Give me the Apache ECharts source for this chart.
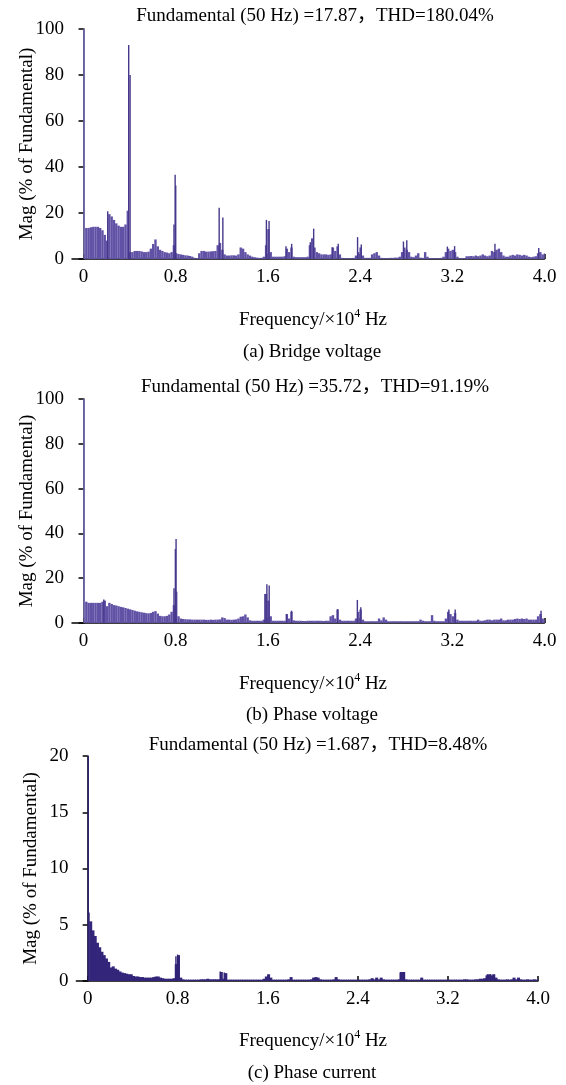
<!DOCTYPE html>
<html><head><meta charset="utf-8">
<script src="https://cdn.jsdelivr.net/npm/echarts@6/dist/echarts.min.js"></script>
<style>html,body{margin:0;padding:0;background:#fff}#c{width:566px;height:1085px}</style>
</head><body><div id="c"></div>
<script>
// ---------------- data ----------------
const STEP = 0.02; // x10^4 Hz spacing of the base spectrum samples
const xTicks = [0, 0.8, 1.6, 2.4, 3.2, 4.0];
const titles = [
  'Fundamental (50 Hz) =17.87，THD=180.04%',
  'Fundamental (50 Hz) =35.72，THD=91.19%',
  'Fundamental (50 Hz) =1.687，THD=8.48%'
];
const panelLabels = ['(a) Bridge voltage', '(b) Phase voltage', '(c) Phase current'];
const xName = ['Frequency/×10', '4', ' Hz'];
const yName = 'Mag (% of Fundamental)';
const yMax = [100, 100, 20];
const yStep = [20, 20, 5];

const baseA = [
  0, 13.5, 13.5, 13.8, 14, 14, 14, 13.5, 12.5, 10.5,
  8, 19.5, 18.5, 17, 15.5, 14.5, 14, 14, 15, 21,
  3, 3, 3.5, 3.5, 3.5, 3.3, 3, 3, 3.2, 4.5,
  6.5, 8.5, 5.5, 4, 3.5, 3, 2.8, 2.5, 3, 6,
  2.5, 2.2, 2, 1.8, 1.6, 1.5, 1.3, 1, 0.5, 0.4,
  2.5, 3.5, 3.5, 3.2, 3.2, 3.3, 3.4, 3.5, 6, 7,
  4, 2, 1.5, 1.5, 1.6, 1.6, 1.5, 2, 5, 4.5,
  3, 2, 1.5, 1, 0.8, 0.6, 0.5, 0.5, 1, 6,
  13, 3, 1, 1, 1, 1, 1, 1.2, 4.5, 3,
  5, 1, 0.8, 0.8, 0.8, 0.8, 0.8, 1, 6, 9,
  5, 3, 2.5, 2, 2, 2, 1.8, 2, 5, 3.5,
  5.5, 2, 0.5, 0.4, 0.4, 0.4, 0.4, 0.5, 1.5, 3,
  5, 1.5, 0.5, 0.5, 0.5, 2, 2.5, 3, 1.5, 0.5,
  0.4, 0.4, 0.4, 0.5, 0.5, 0.6, 0.6, 1, 3, 5,
  4, 3, 1, 0.8, 1.5, 2.5, 0.6, 0.5, 3, 1,
  0.4, 0.4, 0.4, 0.4, 0.4, 0.5, 1, 3, 4.5, 3.5,
  4, 3, 1, 0.4, 0.4, 0.4, 1.2, 1.2, 1.3, 1.2,
  1.5, 1.2, 1.5, 2, 1.5, 1.2, 1.5, 3.5, 3, 4,
  4.5, 3, 1.5, 1, 1, 1.5, 1.8, 1.5, 2, 1.8,
  1.5, 1.8, 1.5, 1, 0.8, 1, 1.2, 2.5, 3, 2,
  2.5
];
const peaksA = [
  [0.005, 100], [0.21, 20.8], [0.392, 93], [0.404, 80], [0.785, 15], [0.795, 36.6], [0.80, 32],
  [1.177, 22.3], [1.209, 18], [1.587, 17], [1.61, 16.5], [1.757, 5.5], [1.806, 6.6],
  [1.968, 7.3], [1.997, 13.2], [2.158, 5.1], [2.21, 6.6], [2.378, 9.5], [2.41, 6.3],
  [2.776, 7.6], [2.805, 8.1], [3.157, 5.4], [3.22, 5.6], [3.57, 6.6], [3.95, 4.8]
];

const baseB = [
  0, 9.5, 9, 9, 9, 9, 9, 9, 9.5, 10,
  7.5, 9, 8.5, 8, 7.8, 7.5, 7.2, 7, 6.7, 6.4,
  6.1, 5.8, 5.5, 5.2, 5, 4.8, 4.6, 4.4, 4.3, 4.5,
  5, 5.3, 4.2, 3.2, 3, 3, 3.2, 3.8, 5, 8,
  14, 3, 2, 1.8, 1.7, 1.6, 1.6, 1.5, 1.5, 1.5,
  1.5, 1.5, 1.5, 1.4, 1.4, 1.5, 1.4, 1.5, 1.5, 1.6,
  2.5, 2.2, 1.5, 1.5, 1.4, 1.5, 1.6, 2, 2.8, 3,
  3.8, 2.5, 1.2, 1, 1, 1, 1, 1, 1.5, 13,
  10, 3, 1, 1, 1, 1, 1, 1, 4, 2,
  5, 1.2, 1, 1, 1, 0.9, 0.9, 1, 1, 1,
  1, 1, 1, 1, 0.9, 1, 1, 3, 3.5, 2,
  6, 1.5, 1, 1, 1, 1, 1, 1, 2, 5,
  6, 1.5, 0.8, 0.8, 0.8, 0.8, 0.8, 0.8, 2, 1.2,
  2.5, 1.5, 0.8, 0.8, 0.8, 0.8, 0.8, 0.8, 0.8, 0.8,
  0.8, 0.8, 0.8, 0.8, 0.8, 0.8, 1.5, 1, 0.8, 0.8,
  0.8, 3.5, 1, 0.8, 0.8, 0.8, 0.8, 2, 5, 4,
  3, 4.5, 1.5, 1, 1, 1, 1, 1, 1, 1,
  1, 1.5, 1, 1, 1.2, 1.5, 1.5, 1.2, 1.5, 1.5,
  1.5, 2, 1.2, 1.2, 1.5, 1.5, 1.5, 1.8, 2, 1.8,
  2, 1.8, 2, 1.5, 1.5, 1.5, 1.5, 3, 4, 2,
  1.5
];
const peaksB = [
  [0.005, 100], [0.176, 10.5], [0.785, 15.5], [0.797, 33], [0.803, 37.5],
  [1.574, 13], [1.591, 17.3], [1.611, 16.7], [1.762, 4], [1.805, 5.5],
  [2.205, 6.2], [2.376, 10.3], [2.406, 7], [3.17, 6], [3.225, 6], [3.97, 5.5]
];

const baseC = [
  0, 5.3, 4.5, 4, 3.4, 3, 2.6, 2.3, 2, 1.7,
  1.2, 1.3, 1.1, 1, 0.85, 0.75, 0.7, 0.65, 0.6, 0.6,
  0.45, 0.4, 0.4, 0.35, 0.35, 0.3, 0.3, 0.3, 0.3, 0.35,
  0.4, 0.4, 0.3, 0.25, 0.2, 0.2, 0.2, 0.2, 0.25, 1.5,
  2.3, 0.3, 0.15, 0.12, 0.12, 0.12, 0.12, 0.12, 0.12, 0.12,
  0.15, 0.15, 0.15, 0.2, 0.15, 0.15, 0.15, 0.15, 0.15, 0.8,
  0.2, 0.7, 0.12, 0.12, 0.12, 0.12, 0.12, 0.12, 0.12, 0.12,
  0.12, 0.12, 0.12, 0.12, 0.12, 0.12, 0.12, 0.12, 0.2, 0.4,
  0.6, 0.3, 0.12, 0.12, 0.12, 0.12, 0.12, 0.12, 0.12, 0.15,
  0.35, 0.12, 0.12, 0.12, 0.12, 0.12, 0.12, 0.12, 0.12, 0.15,
  0.3, 0.35, 0.3, 0.15, 0.12, 0.12, 0.12, 0.12, 0.12, 0.15,
  0.35, 0.15, 0.12, 0.12, 0.12, 0.12, 0.12, 0.12, 0.12, 0.12,
  0.12, 0.12, 0.12, 0.12, 0.12, 0.15, 0.25, 0.15, 0.3, 0.15,
  0.3, 0.15, 0.12, 0.12, 0.12, 0.12, 0.12, 0.12, 0.15, 0.8,
  0.8, 0.15, 0.12, 0.12, 0.12, 0.12, 0.12, 0.12, 0.3, 0.12,
  0.12, 0.12, 0.12, 0.12, 0.12, 0.12, 0.12, 0.12, 0.12, 0.12,
  0.12, 0.12, 0.12, 0.12, 0.12, 0.12, 0.12, 0.15, 0.15, 0.12,
  0.12, 0.12, 0.15, 0.15, 0.2, 0.2, 0.25, 0.5, 0.6, 0.5,
  0.6, 0.3, 0.15, 0.12, 0.12, 0.12, 0.15, 0.12, 0.15, 0.3,
  0.15, 0.3, 0.15, 0.12, 0.12, 0.15, 0.12, 0.12, 0.15, 0.12,
  0.12
];
const peaksC = [
  [0.005, 20], [0.012, 6.1], [0.784, 2.2], [0.799, 2.35], [1.178, 0.85], [1.213, 0.75],
  [2.776, 0.75], [2.81, 0.75], [3.55, 0.6], [3.58, 0.6], [3.61, 0.55]
];

// ---------------- layout / style ----------------
const F = '"Liberation Serif", "Times New Roman", "Noto Sans CJK SC", serif';
const FS = 19;
const grids = [
  { left: 72, right: 21.5, top: 29, height: 230 },
  { left: 72, right: 21.5, top: 399, height: 224 },
  { left: 76.4, right: 28, top: 756, height: 225 }
];
const nameGaps = [35, 35, 36];
const titleY = [16, 387, 745];
const titleX = [315, 315, 318];
const freqY = [319, 683, 1040];
const capY = [352, 715, 1073];
const baseWidth = [2.4, 2.4, 3];
const baseColor = ['#6152a6', '#6152a6', '#33257a'];
const peakColor = ['#46378c', '#46378c', '#2f2276'];
const fundColor = ['#8178c9', '#8178c9', '#2f2276'];

const xAxes = [], yAxes = [], series = [], graphics = [];
grids.forEach((g, i) => {
  xAxes.push({
    type: 'value', gridIndex: i, min: -0.1, max: 4.0,
    axisLine: { show: true, onZero: false, lineStyle: { color: '#000', width: 1.5 } },
    axisTick: { show: true, inside: true, length: 5, customValues: xTicks, lineStyle: { color: '#000', width: 1.5 } },
    axisLabel: { customValues: xTicks, margin: 9, fontSize: FS, fontFamily: F, color: '#000',
      formatter: v => (v === 0 ? '0' : v.toFixed(1)) },
    splitLine: { show: false }
  });
  yAxes.push({
    type: 'value', gridIndex: i, min: 0, max: yMax[i], interval: yStep[i],
    axisLine: { show: true, lineStyle: { color: '#000', width: 1.5 } },
    axisTick: { show: true, inside: false, length: 5, lineStyle: { color: '#000', width: 1.5 } },
    axisLabel: { margin: 8, fontSize: FS, fontFamily: F, color: '#000' },
    splitLine: { show: false },
    name: yName, nameLocation: 'middle', nameGap: nameGaps[i], nameMoveOverlap: false,
    nameTextStyle: { fontSize: FS, fontFamily: F, color: '#000' }
  });
});
const bases = [baseA, baseB, baseC];
const peaks = [peaksA, peaksB, peaksC];
bases.forEach((b, i) => {
  series.push({
    type: 'bar', xAxisIndex: i, yAxisIndex: i, barWidth: baseWidth[i], barGap: '-100%',
    silent: true, itemStyle: { color: baseColor[i] },
    data: b.map((v, k) => [+(k * STEP).toFixed(2), v])
  });
  series.push({
    type: 'bar', xAxisIndex: i, yAxisIndex: i, barWidth: 1.4, barGap: '-100%',
    silent: true,
    itemStyle: { color: p => (p.value[0] < 0.008 ? fundColor[i] : peakColor[i]) },
    data: peaks[i]
  });
  graphics.push({ type: 'text', x: titleX[i], y: titleY[i],
    style: { text: titles[i], font: FS + 'px ' + F, fill: '#000', align: 'center', verticalAlign: 'middle', textAlign: 'center', textVerticalAlign: 'middle' } });
  graphics.push({ type: 'text', x: 313, y: freqY[i],
    style: { text: '{t|' + xName[0] + '}{s|' + xName[1] + '}{t|' + xName[2] + '}',
      align: 'center', verticalAlign: 'middle', textAlign: 'center', textVerticalAlign: 'middle', fill: '#000',
      rich: {
        t: { fontSize: FS, fontFamily: F, lineHeight: 22, verticalAlign: 'bottom', fill: '#000' },
        s: { fontSize: 12, fontFamily: F, lineHeight: 12, verticalAlign: 'top', fill: '#000' }
      } } });
  graphics.push({ type: 'text', x: 312, y: capY[i],
    style: { text: panelLabels[i], font: FS + 'px ' + F, fill: '#000', align: 'center', verticalAlign: 'middle', textAlign: 'center', textVerticalAlign: 'middle' } });
});

const chart = echarts.init(document.getElementById('c'), null, { renderer: 'canvas' });
chart.setOption({
  animation: false,
  backgroundColor: '#fff',
  grid: grids,
  xAxis: xAxes,
  yAxis: yAxes,
  series: series,
  graphic: graphics
});
</script>
</body></html>
